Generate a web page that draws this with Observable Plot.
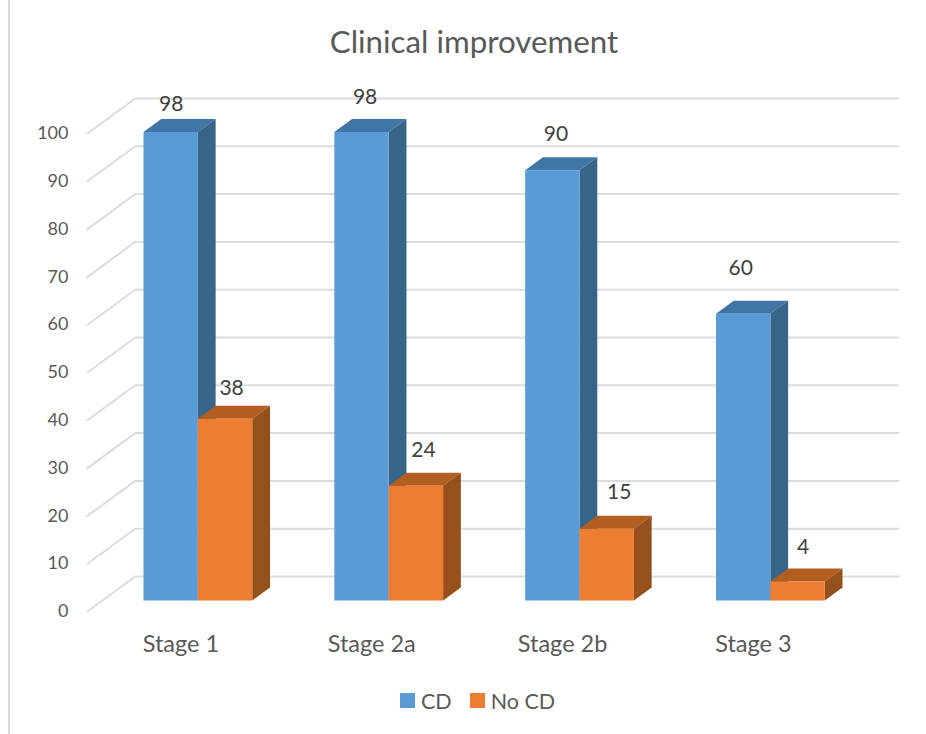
<!DOCTYPE html>
<html>
<head>
<meta charset="utf-8">
<script src="https://cdn.jsdelivr.net/npm/d3@7"></script>
<script src="https://cdn.jsdelivr.net/npm/@observablehq/plot@0.6"></script>
<style>
  html, body { margin: 0; padding: 0; background: #fff; }
  body { width: 926px; height: 734px; overflow: hidden; font-family: Lato, sans-serif; color: #595959; position: relative; }
  #frame { position: absolute; left: 8px; top: 0; width: 2px; height: 734px; background: #d9d9d9; }
  #title { height: 80px; line-height: 82px; text-align: center; padding-left: 22px; font-size: 31.3px; }
  #chart svg { display: block; }
  #legend { display: flex; align-items: center; height: 51px; padding-left: 400px; font-size: 21.5px; }
  .swatch { display: inline-block; width: 15px; height: 15px; margin-right: 6px; }
</style>
</head>
<body>
<div id="frame"></div>
<div id="title">Clinical improvement</div>
<div id="chart"></div>
<div id="legend"></div>
<script>
const stages = ["Stage 1", "Stage 2a", "Stage 2b", "Stage 3"];
const cd = [98, 98, 90, 60];
const noCd = [38, 24, 15, 4];
const yTicks = [0, 10, 20, 30, 40, 50, 60, 70, 80, 90, 100];

// Oblique projection: depth 0 is the front of the floor, depth 1 the back wall.
const skewX = 0.25;    // x shift (in category units) across the full depth
const skewY = 7.32;    // y shift (in value units) across the full depth
const barFront = 0.314, barBack = 0.686;
const barWidth = 0.285;

const px = (x, d) => x + skewX * d;
const py = (v, d) => v + skewY * d;

const palettes = {
  CD: {front: "#5b9bd5", side: "#366589", top: "#4075a6"},
  "No CD": {front: "#ed7d31", side: "#96501c", top: "#b35e21"}
};

// Back wall and left wall gridlines
const grid = yTicks.flatMap((v) => [
  {key: v, x: -0.5, y: py(v, 0)},
  {key: v, x: px(-0.5, 1), y: py(v, 1)},
  {key: v, x: px(3.5, 1), y: py(v, 1)}
]);

// Three visible faces of each bar, painted back to front
function barFaces(i, series, value, x0) {
  const x1 = x0 + barWidth;
  const c = palettes[series];
  const id = `${i}-${series}`;
  const face = (name, fill, corners) =>
    corners.map(([x, v, d]) => ({key: `${id}-${name}`, fill, x: px(x, d), y: py(v, d)}));
  return [
    ...face("top", c.top, [[x0, value, barFront], [x0, value, barBack], [x1, value, barBack], [x1, value, barFront]]),
    ...face("side", c.side, [[x1, 0, barFront], [x1, 0, barBack], [x1, value, barBack], [x1, value, barFront]]),
    ...face("front", c.front, [[x0, 0, barFront], [x1, 0, barFront], [x1, value, barFront], [x0, value, barFront]])
  ];
}

const faces = stages.flatMap((_, i) => [
  ...barFaces(i, "CD", cd[i], i - barWidth),
  ...barFaces(i, "No CD", noCd[i], i)
]);

// Value labels float above each bar, each with its own pixel nudge
const labelNudgeCd = [[-9, -15], [-6, -22], [-6, -23], [-12, -32]];
const labelNudgeNoCd = [[-3, -18], [-2, -23], [3, -24], [-4, -21]];
const valueLabel = (value, x0, nudge) =>
  Plot.text([{x: px(x0 + barWidth / 2 + 0.05, barFront), y: py(value, barBack), t: String(value)}], {
    x: "x", y: "y", text: "t", dx: nudge[0], dy: nudge[1], fontSize: 21, fill: "#404040"
  });

const plot = Plot.plot({
  width: 926,
  height: 595,
  marginLeft: 87,
  marginRight: 28,
  marginTop: 18,
  marginBottom: 64,
  style: {fontFamily: "Lato, sans-serif", background: "#fff", overflow: "visible"},
  x: {domain: [-0.5, 3.75], axis: null},
  y: {domain: [0, 100 + skewY], axis: null},
  marks: [
    Plot.line(grid, {x: "x", y: "y", z: "key", stroke: "#dcdcdc", strokeWidth: 2}),
    Plot.line(faces, {x: "x", y: "y", z: "key", fill: "fill", stroke: "none"}),
    Plot.axisY({
      anchor: "left", ticks: yTicks, tickSize: 0, tickPadding: 19, label: null,
      fontSize: 18, color: "#595959"
    }),
    Plot.axisX({
      anchor: "bottom", ticks: [0, 1, 2, 3], tickFormat: (i) => stages[i],
      tickSize: 0, tickPadding: 24, dx: -2, label: null, fontSize: 23.5, color: "#595959"
    }),
    ...stages.flatMap((_, i) => [
      valueLabel(cd[i], i - barWidth, labelNudgeCd[i]),
      valueLabel(noCd[i], i, labelNudgeNoCd[i])
    ])
  ]
});
document.getElementById("chart").append(plot);

// Legend under the plot
const legend = document.getElementById("legend");
["CD", "No CD"].forEach((name, k) => {
  const item = document.createElement("span");
  item.style.cssText = `display:inline-flex;align-items:center;margin-right:${k ? 0 : 18}px`;
  item.innerHTML = `<span class="swatch" style="background:${palettes[name].front}"></span>${name}`;
  legend.append(item);
});
</script>
</body>
</html>
